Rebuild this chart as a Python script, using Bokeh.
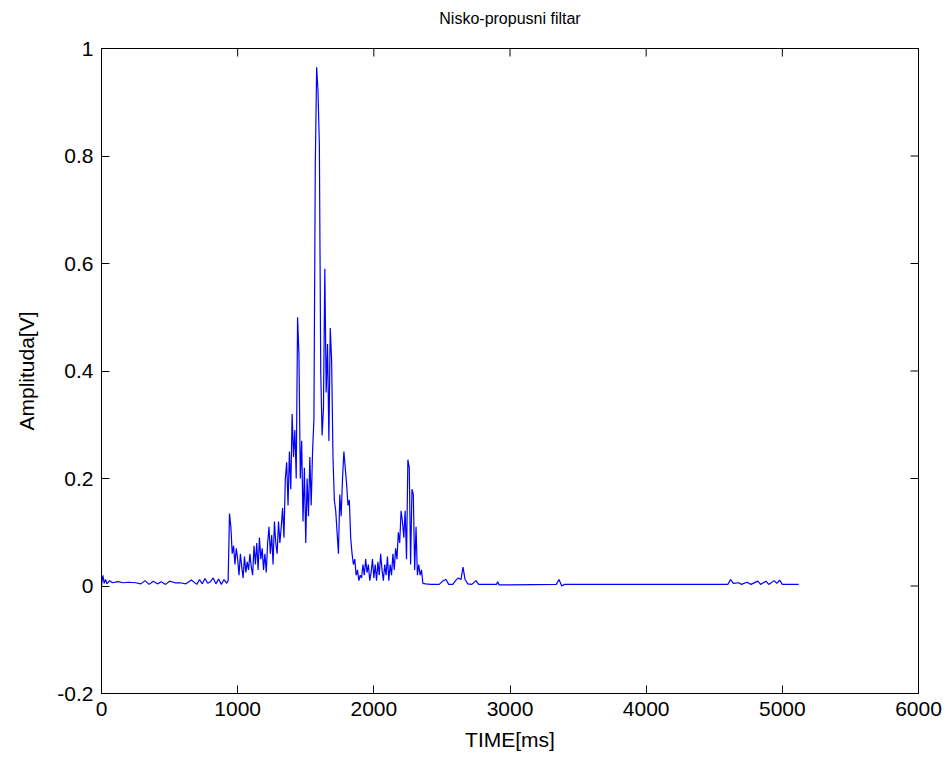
import math
from bokeh.plotting import figure
from bokeh.models import FixedTicker, Range1d, ColumnDataSource
from bokeh.embed import file_html
from bokeh.resources import INLINE

# ---- data ----
time_ms = [
    0, 10, 20, 30, 40, 60, 80, 120, 160, 200, 250, 290, 320, 350, 380, 410, 440, 470,
    500, 540, 580, 620, 660, 700, 720, 740, 760, 780, 800, 820, 840, 860, 880, 900, 920,
    930, 940, 950, 960, 970, 980, 990, 1000, 1010, 1020, 1030, 1040, 1050, 1060, 1070,
    1080, 1090, 1100, 1110, 1120, 1130, 1140, 1150, 1160, 1170, 1180, 1190, 1200, 1210,
    1220, 1230, 1240, 1250, 1260, 1270, 1280, 1290, 1300, 1310, 1320, 1330, 1340, 1350,
    1360, 1370, 1380, 1390, 1400, 1410, 1420, 1430, 1440, 1450, 1460, 1470, 1480, 1490,
    1500, 1510, 1520, 1530, 1540, 1550, 1560, 1570, 1580, 1590, 1600, 1610, 1620, 1630,
    1640, 1650, 1660, 1670, 1680, 1690, 1700, 1710, 1720, 1730, 1740, 1750, 1760, 1770,
    1780, 1790, 1800, 1810, 1820, 1830, 1840, 1850, 1860, 1870, 1880, 1890, 1900, 1910,
    1920, 1930, 1940, 1950, 1960, 1970, 1980, 1990, 2000, 2010, 2020, 2030, 2040, 2050,
    2060, 2070, 2080, 2090, 2100, 2110, 2120, 2130, 2140, 2150, 2160, 2170, 2180, 2190,
    2200, 2210, 2220, 2230, 2240, 2250, 2260, 2270, 2280, 2290, 2300, 2310, 2320, 2330,
    2340, 2350, 2360, 2380, 2420, 2480, 2510, 2530, 2550, 2580, 2600, 2620, 2640, 2655,
    2670, 2690, 2720, 2750, 2770, 2900, 2910, 2920, 3340, 3360, 3380, 3400, 4600, 4620,
    4640, 4680, 4700, 4740, 4770, 4820, 4840, 4880, 4900, 4940, 4960, 4980, 5000, 5120,
]
amplitude = [
    0.0, 0.02, 0.005, 0.012, 0.004, 0.01, 0.006, 0.008, 0.006, 0.007, 0.006, 0.004, 0.01,
    0.003, 0.009, 0.004, 0.008, 0.003, 0.009, 0.006, 0.006, 0.004, 0.011, 0.003, 0.012,
    0.004, 0.014, 0.005, 0.008, 0.015, 0.004, 0.013, 0.003, 0.012, 0.005,
    0.01, 0.135, 0.11, 0.06, 0.075, 0.04, 0.07, 0.05, 0.02, 0.06, 0.035, 0.015, 0.055,
    0.025, 0.045, 0.03, 0.06, 0.035, 0.02, 0.075, 0.04, 0.08, 0.03, 0.09, 0.05, 0.07,
    0.03, 0.06, 0.025, 0.08, 0.11, 0.06, 0.095, 0.04, 0.12, 0.08, 0.06, 0.12, 0.08, 0.11,
    0.145, 0.09, 0.2, 0.23, 0.15, 0.25, 0.18, 0.32, 0.24, 0.29, 0.2, 0.50, 0.43, 0.2,
    0.27, 0.12, 0.22, 0.08, 0.2, 0.13, 0.24, 0.15, 0.25, 0.31, 0.78, 0.965, 0.92, 0.82,
    0.40, 0.28, 0.33, 0.59, 0.36, 0.45, 0.27, 0.48, 0.42, 0.24, 0.16, 0.14, 0.10, 0.06,
    0.17, 0.13, 0.20, 0.25, 0.22, 0.19, 0.15, 0.16, 0.09, 0.06, 0.04, 0.05, 0.02, 0.03,
    0.01, 0.02, 0.015, 0.04, 0.02, 0.05, 0.025, 0.04, 0.01, 0.025, 0.05, 0.015, 0.04,
    0.01, 0.045, 0.02, 0.06, 0.03, 0.01, 0.04, 0.02, 0.055, 0.01, 0.04, 0.02, 0.06, 0.03,
    0.07, 0.05, 0.10, 0.08, 0.14, 0.12, 0.09, 0.14, 0.05, 0.235, 0.22, 0.04, 0.18, 0.17,
    0.03, 0.11, 0.02, 0.04, 0.02, 0.03, 0.005, 0.004, 0.003, 0.003, 0.01, 0.012, 0.003,
    0.003, 0.01, 0.015, 0.012, 0.035, 0.012, 0.004, 0.003, 0.01, 0.003, 0.003, 0.008,
    0.002, 0.003, 0.012, 0.0, 0.003, 0.003, 0.012, 0.005, 0.006, 0.003, 0.007, 0.003,
    0.009, 0.003, 0.009, 0.003, 0.010, 0.005, 0.011, 0.003, 0.003,
]
x_ticks = [0, 1000, 2000, 3000, 4000, 5000, 6000]
x_tick_labels = ["0", "1000", "2000", "3000", "4000", "5000", "6000"]
y_ticks = [-0.2, 0.0, 0.2, 0.4, 0.6, 0.8, 1.0]
y_tick_labels = ["-0.2", "0", "0.2", "0.4", "0.6", "0.8", "1"]

FONT = "Liberation Sans"
X_MIN, X_MAX = 0, 6000
Y_MIN, Y_MAX = -0.2, 1.0

p = figure(
    frame_width=817, frame_height=645,
    min_border_left=101, min_border_right=28, min_border_top=48, min_border_bottom=68,
    x_range=Range1d(X_MIN, X_MAX), y_range=Range1d(Y_MIN, Y_MAX),
    output_backend="svg", toolbar_location=None,
    title="Nisko-propusni filtar\n",
)
p.title.align = "center"
p.title.text_font = FONT
p.title.text_font_size = "16px"
p.title.text_font_style = "normal"
p.title.text_color = "#000000"

p.grid.visible = False
p.outline_line_color = "#000000"
p.outline_line_width = 1
p.background_fill_color = "#ffffff"
p.border_fill_color = "#ffffff"

src = ColumnDataSource(data=dict(t=time_ms, a=amplitude))
p.line("t", "a", source=src, line_color="#0000ff", line_width=1.2)

# MATLAB-style box: inward ticks on the top and right edges too
p.scatter(x=x_ticks, y=[Y_MAX] * len(x_ticks), marker="dash", size=16,
          angle=math.pi / 2, line_color="#000000", line_width=1)
p.scatter(x=[X_MAX] * len(y_ticks), y=y_ticks, marker="dash", size=16,
          line_color="#000000", line_width=1)

x_over = {t: l for t, l in zip(x_ticks, x_tick_labels)}
y_over = {t: l for t, l in zip(y_ticks, y_tick_labels)}

def style(ax, ticks, overrides):
    ax.ticker = FixedTicker(ticks=ticks)
    ax.major_label_overrides = overrides
    ax.major_tick_in = 8
    ax.major_tick_out = 0
    ax.minor_tick_line_color = None
    ax.axis_line_color = "#000000"
    ax.major_tick_line_color = "#000000"
    ax.major_label_text_font = FONT
    ax.major_label_text_font_size = "21px"
    ax.major_label_text_color = "#000000"
    ax.axis_label_text_font = FONT
    ax.axis_label_text_font_size = "21px"
    ax.axis_label_text_font_style = "normal"
    ax.axis_label_text_color = "#000000"

style(p.xaxis[0], x_ticks, x_over)
p.xaxis[0].axis_label = "TIME[ms]"
p.xaxis[0].major_label_standoff = 8
p.xaxis[0].axis_label_standoff = 9
style(p.yaxis[0], y_ticks, y_over)
p.yaxis[0].axis_label = "Amplituda[V]"
p.yaxis[0].major_label_standoff = 8
p.yaxis[0].axis_label_standoff = 16

open("out.html", "w").write(file_html(p, INLINE))
